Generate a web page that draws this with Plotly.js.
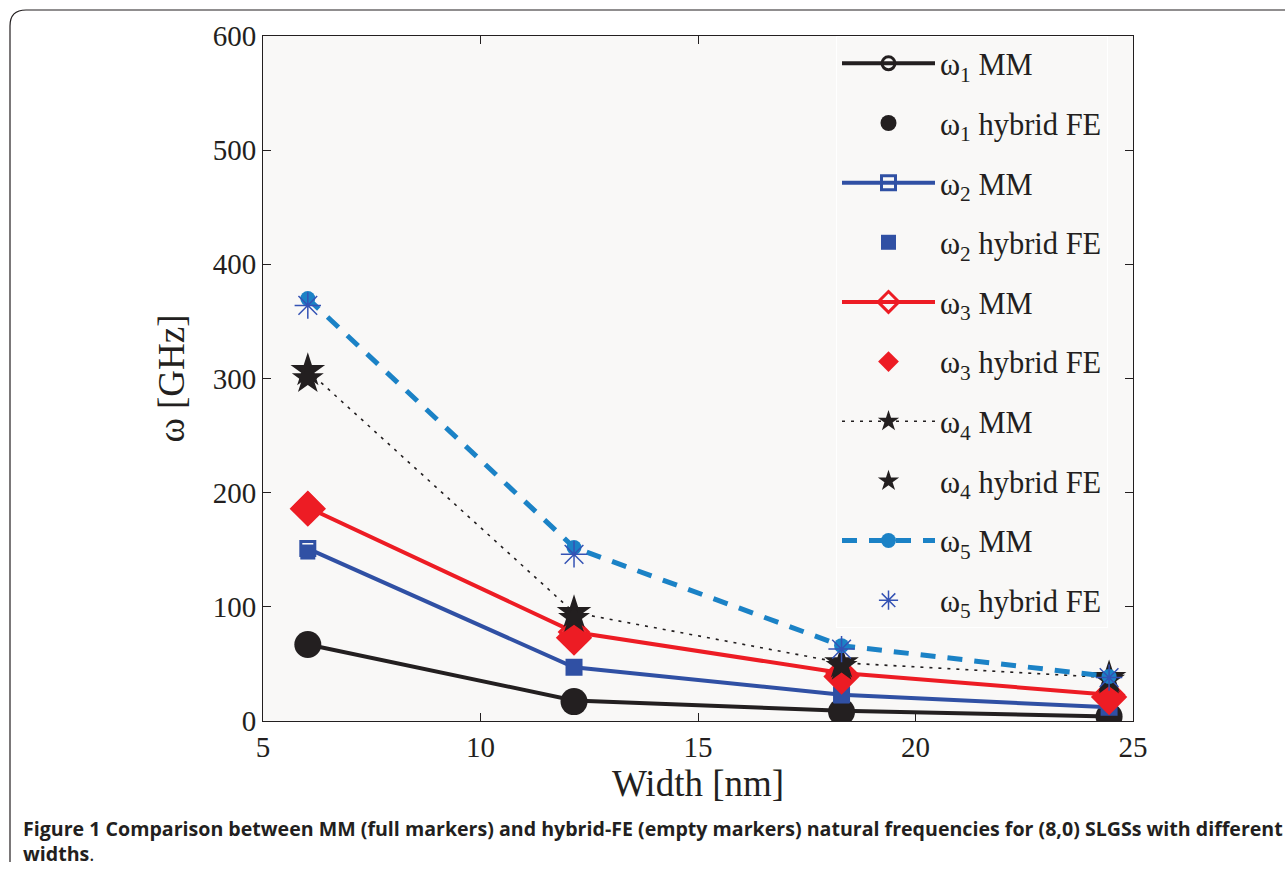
<!DOCTYPE html>
<html><head><meta charset="utf-8">
<script src="https://cdn.plot.ly/plotly-3.0.1.min.js"></script>
<style>body{margin:0;background:#fff}#c{width:1285px;height:871px}</style>
</head><body><div id="c"></div>
<script>
var width = [6.03, 12.15, 18.3, 24.45];
var w1MM = [67, 18, 9, 4];
var w1FE = [67, 17, 8, 4];
var w2MM = [151, 47, 23, 12];
var w2FE = [148, 47, 22, 12];
var w3MM = [187, 78, 42, 23];
var w3FE = [186, 73, 39, 21];
var w4MM = [307, 95, 51, 38];
var w4FE = [300, 90, 48, 36];
var w5MM = [370, 152, 66, 39];
var w5FE = [364, 146, 63, 38];
var names = ['ω<sub>1</sub> MM','ω<sub>1</sub> hybrid FE','ω<sub>2</sub> MM','ω<sub>2</sub> hybrid FE','ω<sub>3</sub> MM','ω<sub>3</sub> hybrid FE','ω<sub>4</sub> MM','ω<sub>4</sub> hybrid FE','ω<sub>5</sub> MM','ω<sub>5</sub> hybrid FE'];

var BLACK='#231f20', BLUE='#3050a4', RED='#ed1c24', LBLUE='#1b82c6', ABLUE='#3452b4';
var traces = [
 {y:w1MM, mode:'lines+markers', line:{color:BLACK,width:4}, marker:{symbol:'circle-open',size:13,color:BLACK,line:{width:3,color:BLACK}}},
 {y:w1FE, mode:'markers', marker:{symbol:'circle',size:27,color:BLACK}},
 {y:w2MM, mode:'lines+markers', line:{color:BLUE,width:4}, marker:{symbol:'square-open',size:14,color:BLUE,line:{width:3,color:BLUE}}},
 {y:w2FE, mode:'markers', marker:{symbol:'square',size:15,color:BLUE}},
 {y:w3MM, mode:'lines+markers', line:{color:RED,width:4}, marker:{symbol:'diamond-open',size:22,color:RED,line:{width:3,color:RED}}},
 {y:w3FE, mode:'markers', marker:{symbol:'diamond',size:28,color:RED}},
 {y:w4MM, mode:'lines+markers', line:{color:BLACK,width:1.6,dash:'3px,6px'}, marker:{symbol:'star',size:26,color:BLACK}},
 {y:w4FE, mode:'markers', marker:{symbol:'star',size:24,color:BLACK}},
 {y:w5MM, mode:'lines+markers', line:{color:LBLUE,width:5,dash:'15px,12px'}, marker:{symbol:'circle',size:15,color:LBLUE}},
 {y:w5FE, mode:'markers', marker:{symbol:'asterisk-open',size:22,color:ABLUE,line:{width:1.5,color:ABLUE}}}
];
traces.forEach(function(t,i){t.x=width;t.name=names[i];t.type='scatter';t.legendgroup='g'+i;});

var px=function(p){return (p-263)/870;}, py=function(p){return (721-p)/685;};
var SERIF='Liberation Serif, Times New Roman, serif';
var tf={family:SERIF,size:29,color:'#231f20'};
var layout={
 width:1285,height:871,
 margin:{l:263,r:152,t:36,b:150},
 paper_bgcolor:'#ffffff',plot_bgcolor:'#f9f8f7',
 showlegend:true,
 legend:{x:px(836),xanchor:'left',y:1,yanchor:'top',bgcolor:'#f9f8f7',bordercolor:'#ffffff',borderwidth:1,
   font:{family:SERIF,size:30.5,color:'#231f20'},itemwidth:93,tracegroupgap:17,itemsizing:'trace'},
 xaxis:{range:[5,25],tickvals:[5,10,15,20,25],ticks:'inside',ticklen:8,tickcolor:'#231f20',showline:true,linecolor:'#231f20',linewidth:1,mirror:'ticks',showgrid:false,zeroline:false,tickfont:tf,
   title:{text:'Width [nm]',font:{family:SERIF,size:37,color:'#231f20'},standoff:6}},
 yaxis:{range:[0,600],tickvals:[0,100,200,300,400,500,600],ticks:'inside',ticklen:8,tickcolor:'#231f20',showline:true,linecolor:'#231f20',linewidth:1,mirror:'ticks',showgrid:false,zeroline:false,tickfont:tf,
   title:{text:'ω [GHz]',font:{family:SERIF,size:37,color:'#231f20'},standoff:16}},
 shapes:[{type:'path',xref:'paper',yref:'paper',
   path:'M '+px(1290)+','+py(10)+' L '+px(26)+','+py(10)+' Q '+px(10)+','+py(10)+' '+px(10)+','+py(26)+' L '+px(10)+','+py(862),
   line:{color:'#231f20',width:1.2},layer:'below'}],
 annotations:[
  {xref:'paper',yref:'paper',x:px(21),y:py(828),xanchor:'left',yanchor:'middle',showarrow:false,align:'left',
   text:'<b>Figure 1</b> <b>Comparison between MM (full markers) and hybrid-FE (empty markers) natural frequencies for (8,0) SLGSs with different</b>',
   font:{family:'Open Sans, sans-serif',size:19.6,color:'#231f20'}},
  {xref:'paper',yref:'paper',x:px(21),y:py(853),xanchor:'left',yanchor:'middle',showarrow:false,align:'left',
   text:'<b>widths</b>.',font:{family:'Open Sans, sans-serif',size:19.6,color:'#231f20'}}
 ]
};
Plotly.newPlot('c',traces,layout,{displayModeBar:false});
</script></body></html>
